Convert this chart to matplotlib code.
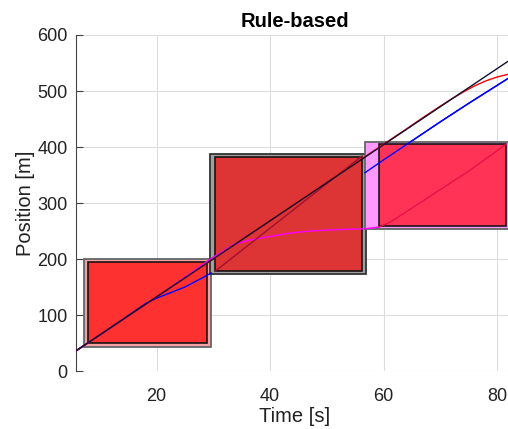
import matplotlib
matplotlib.use('Agg')
import matplotlib.pyplot as plt
from matplotlib.patches import Rectangle

plt.rcParams['font.family'] = ['Liberation Sans', 'DejaVu Sans']

# black: reference trajectory
black_t = [5.8, 82.8]
black_p = [36, 559]

# red trajectory
red_t = [5.8, 20, 40, 60, 64, 67, 70, 72, 74, 76, 78, 80, 82, 82.8]
red_p = [36, 132, 268, 405, 432, 453, 473, 486, 498, 509, 518, 525, 530, 531]

# blue trajectory
blue_t = [5.8, 12, 18, 20, 22, 25, 28, 29.6, 35, 40, 45, 50, 56.7, 60, 65, 70, 75, 82.8]
blue_p = [36, 78, 120, 130, 138, 150, 166, 175, 205, 238, 275, 310, 354, 377, 411, 445, 478, 528]

# magenta trajectory
mag_t = [5.8, 20, 29.5, 33.4, 36, 39.3, 43.3, 47, 50.9, 56.7, 59.2, 61.2, 65, 70, 75, 81.6]
mag_p = [36, 132, 200, 225, 233, 239, 246, 250, 252, 254, 257, 266, 291, 324, 357, 405]

# dark diagonal inside the second block
diag_t = [30.3, 56.2]
diag_p = [178, 384]

# blocks: (t0, t1, p0, p1)
outer_boxes = [(7.2, 29.6, 43, 200), (29.4, 56.9, 173, 387), (56.7, 83.5, 254, 409)]
inner_boxes = [(7.9, 28.9, 50, 195), (30.3, 56.2, 178, 382), (59.2, 81.6, 259, 405)]
outer_colors = ['#f5a0a0', '#a0a0a0', '#ff99ff']
outer_edges = ['#666666', '#333333', '#666666']
inner_colors = ['#ff2e2e', '#e03232', '#ff3050']

fig = plt.figure(figsize=(5.08, 4.29), dpi=100)
ax = fig.add_axes([76 / 508, 1 - 371 / 429, 437 / 508, 336 / 429])

ax.grid(True, color='#dddddd', linewidth=0.8)
ax.set_axisbelow(True)

ax.plot(blue_t, blue_p, color='blue', lw=1.0, zorder=2)

for i in range(3):
    t0, t1, p0, p1 = outer_boxes[i]
    ax.add_patch(Rectangle((t0, p0), t1 - t0, p1 - p0, facecolor=outer_colors[i],
                           edgecolor=outer_edges[i], lw=1.3, zorder=3))
    t0, t1, p0, p1 = inner_boxes[i]
    ax.add_patch(Rectangle((t0, p0), t1 - t0, p1 - p0, facecolor=inner_colors[i],
                           edgecolor='#111111', lw=1.2, alpha=0.97, zorder=4))

# magenta over blocks 1-2, seen reddish through block 3
ax.plot(mag_t[:11], mag_p[:11], color='#ff00ff', lw=1.0, zorder=5)
ax.plot(mag_t[10:], mag_p[10:], color='#e8104a', lw=1.0, zorder=5)
ax.plot(blue_t[:8], blue_p[:8], color='blue', lw=1.0, zorder=5)
ax.plot(blue_t[12:], blue_p[12:], color='blue', lw=1.0, zorder=5)
ax.plot(diag_t, diag_p, color='#a01030', lw=1.0, zorder=5)
ax.plot(red_t, red_p, color='red', lw=1.0, zorder=6)
ax.plot(black_t, black_p, color='#101030', lw=1.0, zorder=7)

ax.set_xlim(5.8, 82.8)
ax.set_ylim(0, 600)
ax.set_xticks([20, 40, 60, 80])
ax.set_yticks([0, 100, 200, 300, 400, 500, 600])
for s in ['top', 'right', 'bottom']:
    ax.spines[s].set_visible(False)
ax.spines['left'].set_color('#444444')
ax.tick_params(axis='y', direction='in', length=5, color='#444444', labelsize=13,
               labelcolor='#222222', pad=6)
ax.tick_params(axis='x', length=0, labelsize=13, labelcolor='#222222', pad=12)

ax.set_xlabel('Time [s]', fontsize=14.5, color='#222222', labelpad=2)
ax.set_ylabel('Position [m]', fontsize=14.5, color='#222222', labelpad=2)
ax.set_title('Rule-based', fontsize=14.5, fontweight='bold', pad=6)

fig.savefig('out.png', dpi=100)
